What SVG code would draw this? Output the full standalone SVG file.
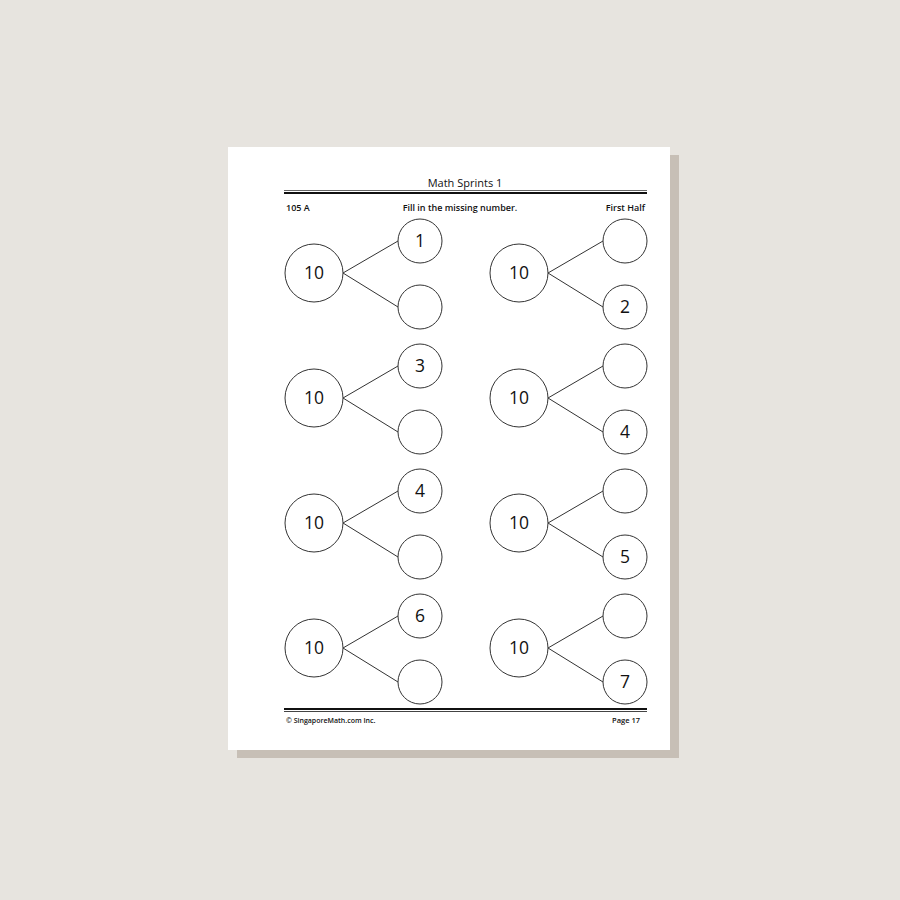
<svg xmlns="http://www.w3.org/2000/svg" width="900" height="900" viewBox="0 0 900 900">
<style>
.c{fill:#fff;stroke:#333;stroke-width:1}
.l{stroke:#333;stroke-width:1;fill:none}
.n{font-family:"Open Sans","Liberation Sans",sans-serif;font-size:17.5px;fill:#111;text-anchor:middle}
.t{font-family:"Open Sans","Liberation Sans",sans-serif;fill:#111}
.b{font-weight:600}
</style>
<rect width="900" height="900" fill="#e7e4df"/>
<rect x="237" y="155" width="442" height="603" fill="#c7bfb6"/>
<rect x="228" y="147" width="442" height="603" fill="#fff"/>
<text class="t" x="465" y="187" font-size="11" text-anchor="middle">Math Sprints 1</text>
<line x1="284" y1="190.5" x2="647" y2="190.5" stroke="#666" stroke-width="1"/>
<line x1="284" y1="193" x2="647" y2="193" stroke="#111" stroke-width="2"/>
<text class="t b" x="286" y="211" font-size="9">105 A</text>
<text class="t b" x="460" y="211" font-size="9" text-anchor="middle">Fill in the missing number.</text>
<text class="t b" x="645" y="211" font-size="9" text-anchor="end">First Half</text>
<g id="connectors">
<line class="l" x1="343" y1="273" x2="398" y2="241"/><line class="l" x1="343" y1="273" x2="398" y2="307"/>
<line class="l" x1="548" y1="273" x2="603" y2="241"/><line class="l" x1="548" y1="273" x2="603" y2="307"/>
<line class="l" x1="343" y1="398" x2="398" y2="366"/><line class="l" x1="343" y1="398" x2="398" y2="432"/>
<line class="l" x1="548" y1="398" x2="603" y2="366"/><line class="l" x1="548" y1="398" x2="603" y2="432"/>
<line class="l" x1="343" y1="523" x2="398" y2="491"/><line class="l" x1="343" y1="523" x2="398" y2="557"/>
<line class="l" x1="548" y1="523" x2="603" y2="491"/><line class="l" x1="548" y1="523" x2="603" y2="557"/>
<line class="l" x1="343" y1="648" x2="398" y2="616"/><line class="l" x1="343" y1="648" x2="398" y2="682"/>
<line class="l" x1="548" y1="648" x2="603" y2="616"/><line class="l" x1="548" y1="648" x2="603" y2="682"/>
</g>
<g id="p1"><circle class="c" cx="314" cy="273" r="29"/><text class="n" x="314" y="279">10</text><circle class="c" cx="420" cy="241" r="22"/><text class="n" x="420" y="247">1</text><circle class="c" cx="420" cy="307" r="22"/></g>
<g id="p2"><circle class="c" cx="519" cy="273" r="29"/><text class="n" x="519" y="279">10</text><circle class="c" cx="625" cy="241" r="22"/><circle class="c" cx="625" cy="307" r="22"/><text class="n" x="625" y="313">2</text></g>
<g id="p3"><circle class="c" cx="314" cy="398" r="29"/><text class="n" x="314" y="404">10</text><circle class="c" cx="420" cy="366" r="22"/><text class="n" x="420" y="372">3</text><circle class="c" cx="420" cy="432" r="22"/></g>
<g id="p4"><circle class="c" cx="519" cy="398" r="29"/><text class="n" x="519" y="404">10</text><circle class="c" cx="625" cy="366" r="22"/><circle class="c" cx="625" cy="432" r="22"/><text class="n" x="625" y="438">4</text></g>
<g id="p5"><circle class="c" cx="314" cy="523" r="29"/><text class="n" x="314" y="529">10</text><circle class="c" cx="420" cy="491" r="22"/><text class="n" x="420" y="497">4</text><circle class="c" cx="420" cy="557" r="22"/></g>
<g id="p6"><circle class="c" cx="519" cy="523" r="29"/><text class="n" x="519" y="529">10</text><circle class="c" cx="625" cy="491" r="22"/><circle class="c" cx="625" cy="557" r="22"/><text class="n" x="625" y="563">5</text></g>
<g id="p7"><circle class="c" cx="314" cy="648" r="29"/><text class="n" x="314" y="654">10</text><circle class="c" cx="420" cy="616" r="22"/><text class="n" x="420" y="622">6</text><circle class="c" cx="420" cy="682" r="22"/></g>
<g id="p8"><circle class="c" cx="519" cy="648" r="29"/><text class="n" x="519" y="654">10</text><circle class="c" cx="625" cy="616" r="22"/><circle class="c" cx="625" cy="682" r="22"/><text class="n" x="625" y="688">7</text></g>
<line x1="284" y1="709" x2="647" y2="709" stroke="#111" stroke-width="2"/>
<line x1="284" y1="711.5" x2="647" y2="711.5" stroke="#444" stroke-width="1"/>
<text class="t b" x="286" y="723" font-size="7">© SingaporeMath.com Inc.</text>
<text class="t b" x="640" y="723" font-size="7.5" text-anchor="end">Page 17</text>
</svg>
